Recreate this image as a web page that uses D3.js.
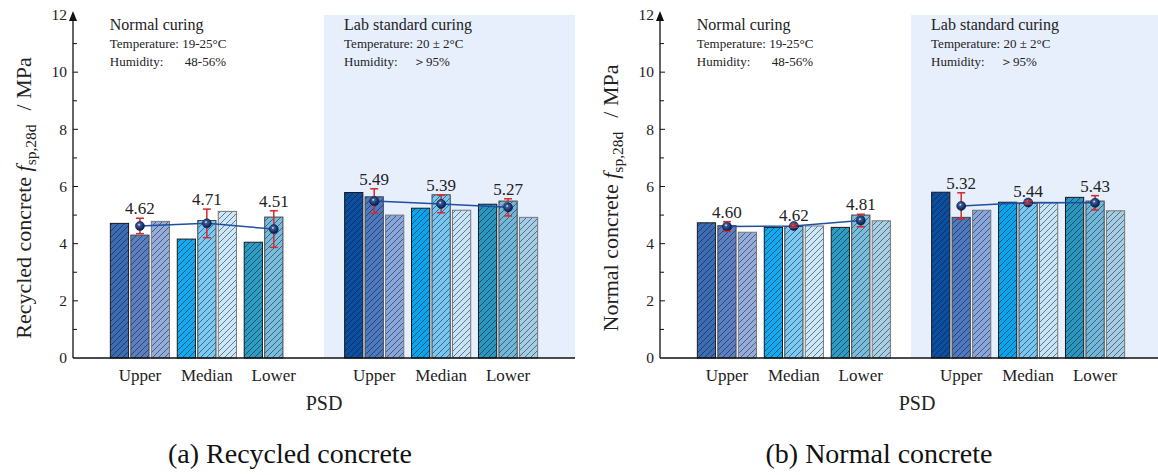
<!DOCTYPE html>
<html>
<head>
<meta charset="utf-8">
<script src="https://cdn.jsdelivr.net/npm/d3@7"></script>
<style>
  body { margin: 0; background: #fff; }
  svg { display: block; font-family: "Liberation Serif", "Times New Roman", serif; }
</style>
</head>
<body>
<div id="viz"></div>
<script>
const psd = ["Upper", "Median", "Lower"];
const yTicks = [0, 2, 4, 6, 8, 10, 12];

// (a) recycled concrete, three specimens per PSD (null = no bar)
const recycledNormalBars = [[4.71, 4.30, 4.78], [4.16, 4.81, 5.13], [4.05, 4.93, null]];
const recycledLabBars = [[5.79, 5.64, 5.00], [5.24, 5.71, 5.17], [5.38, 5.49, 4.92]];
const recycledNormalMean = [4.62, 4.71, 4.51];
const recycledNormalErr = [0.27, 0.50, 0.64];
const recycledLabMean = [5.49, 5.39, 5.27];
const recycledLabErr = [0.43, 0.31, 0.30];

// (b) normal concrete
const normalNormalBars = [[4.73, 4.63, 4.40], [4.57, 4.60, 4.62], [4.57, 5.00, 4.80]];
const normalLabBars = [[5.80, 4.92, 5.17], [5.45, 5.41, 5.43], [5.62, 5.49, 5.15]];
const normalNormalMean = [4.60, 4.62, 4.81];
const normalNormalErr = [0.17, 0.05, 0.22];
const normalLabMean = [5.32, 5.44, 5.43];
const normalLabErr = [0.46, 0.05, 0.25];

const normalColors = [
  ["#3c6db4", "#5b7fc1", "#93acd9"],
  ["#12a9ee", "#7cc9f2", "#cbe7f8"],
  ["#2d9bc2", "#79bcdb", "#a8cfe3"]
];
const labColors = [
  ["#0c4e9f", "#4e79be", "#88a6d9"],
  ["#09a5ec", "#79c7f1", "#c6e4f6"],
  ["#2a96be", "#73b7d8", "#a4cce2"]
];
const barStroke = ["#1a1a1a", "#444", "#777"];

const W = 1158, H = 475;
const y0 = 358, y12 = 15;

const svg = d3.select("#viz").append("svg")
  .attr("width", W).attr("height", H);
svg.append("rect").attr("width", W).attr("height", H).attr("fill", "#fff");

const defs = svg.append("defs");
defs.append("pattern")
  .attr("id", "hatch")
  .attr("patternUnits", "userSpaceOnUse")
  .attr("width", 6).attr("height", 6)
  .append("path")
    .attr("d", "M-1,1 l2,-2 M0,6 l6,-6 M5,7 l2,-2")
    .attr("stroke", "rgba(10,20,40,0.62)")
    .attr("stroke-width", 0.85);

const grad = defs.append("radialGradient")
  .attr("id", "ball").attr("cx", "40%").attr("cy", "36%").attr("r", "62%");
grad.append("stop").attr("offset", "0%").attr("stop-color", "#ffffff");
grad.append("stop").attr("offset", "25%").attr("stop-color", "#3c5c98");
grad.append("stop").attr("offset", "100%").attr("stop-color", "#061c50");

const y = d3.scaleLinear().domain([0, 12]).range([y0, y12]);

function drawPanel(p) {
  const x = d3.scaleLinear().domain([0, 7.5]).range(p.range);
  const unit = x(1) - x(0);
  const inner = d3.scaleBand().domain([0, 1, 2])
    .range([-0.442 * unit, 0.442 * unit]).paddingInner(0.11);
  const g = svg.append("g");

  // lab curing shading
  g.append("rect")
    .attr("x", x(3.75)).attr("y", y(12))
    .attr("width", x(7.5) - x(3.75)).attr("height", y(0) - y(12))
    .attr("fill", "#e7effc");

  const groups = [
    { pos: [1, 2, 3], bars: p.normalBars, mean: p.normalMean, err: p.normalErr, colors: normalColors },
    { pos: [4.5, 5.5, 6.5], bars: p.labBars, mean: p.labMean, err: p.labErr, colors: labColors }
  ];

  groups.forEach(gr => {
    const cells = [];
    gr.bars.forEach((vals, gi) => vals.forEach((v, bi) => {
      if (v != null) cells.push({ c: gr.pos[gi], bi, v, color: gr.colors[gi][bi] });
    }));
    const bx = d => x(d.c) + inner(d.bi);
    g.selectAll(null).data(cells).enter().append("rect")
      .attr("x", bx).attr("y", d => y(d.v))
      .attr("width", inner.bandwidth()).attr("height", d => y(0) - y(d.v))
      .attr("fill", d => d.color);
    g.selectAll(null).data(cells).enter().append("rect")
      .attr("x", bx).attr("y", d => y(d.v))
      .attr("width", inner.bandwidth()).attr("height", d => y(0) - y(d.v))
      .attr("fill", "url(#hatch)")
      .attr("stroke", d => barStroke[d.bi]).attr("stroke-width", 1);

    const pts = gr.mean.map((m, i) => ({ cx: x(gr.pos[i]), m, e: gr.err[i] }));
    g.append("path")
      .attr("d", d3.line().x(d => d.cx).y(d => y(d.m))(pts))
      .attr("fill", "none").attr("stroke", "#1e4fa0").attr("stroke-width", 1.5);

    g.selectAll(null).data(pts).enter().append("line")
      .attr("x1", d => d.cx).attr("x2", d => d.cx)
      .attr("y1", d => y(d.m + d.e)).attr("y2", d => y(d.m - d.e))
      .attr("stroke", "#d42a2a").attr("stroke-width", 1.5);
    g.selectAll(null).data(pts).enter().append("circle")
      .attr("cx", d => d.cx).attr("cy", d => y(d.m)).attr("r", 4.5)
      .attr("fill", "url(#ball)").attr("stroke", "#061840").attr("stroke-width", 0.6);
    [1, -1].forEach(s => {
      g.selectAll(null).data(pts).enter().append("line")
        .attr("x1", d => d.cx - 4).attr("x2", d => d.cx + 4)
        .attr("y1", d => y(d.m + s * d.e)).attr("y2", d => y(d.m + s * d.e))
        .attr("stroke", "#d42a2a").attr("stroke-width", 1.5);
    });
    g.selectAll(null).data(pts).enter().append("text")
      .attr("x", d => d.cx).attr("y", d => y(d.m + d.e) - 4)
      .attr("text-anchor", "middle").attr("font-size", 17).attr("fill", "#222")
      .text(d => d.m.toFixed(2));

    // category labels
    g.selectAll(null).data(gr.pos).enter().append("text")
      .attr("x", d => x(d)).attr("y", 381)
      .attr("text-anchor", "middle").attr("font-size", 17).attr("fill", "#222")
      .text((d, i) => psd[i]);
  });

  // x axis line
  g.append("line")
    .attr("x1", x(0)).attr("x2", x(7.5)).attr("y1", y(0)).attr("y2", y(0))
    .attr("stroke", "#111").attr("stroke-width", 1.3);

  // y axis with inward ticks and arrow
  const ax = x(0);
  g.append("line")
    .attr("x1", ax).attr("x2", ax).attr("y1", y(0)).attr("y2", y(12) - 1)
    .attr("stroke", "#111").attr("stroke-width", 1.3);
  g.append("path")
    .attr("d", `M${ax},${y(12) - 4} l-4,10 l8,0 z`).attr("fill", "#111");
  g.selectAll(null).data(d3.range(1, 12)).enter().append("line")
    .attr("x1", ax).attr("x2", d => ax + (d % 2 === 0 ? 5 : 4))
    .attr("y1", d => y(d)).attr("y2", d => y(d))
    .attr("stroke", "#111").attr("stroke-width", 1);
  g.selectAll(null).data(yTicks).enter().append("text")
    .attr("x", ax - 6).attr("y", d => y(d)).attr("dy", "0.34em")
    .attr("text-anchor", "end").attr("font-size", 15.5).attr("fill", "#222")
    .text(d => d);

  // y title
  const t = g.append("text")
    .attr("transform", `translate(${ax - 42},198) rotate(-90)`)
    .attr("text-anchor", "middle").attr("font-size", 22).attr("fill", "#222");
  t.append("tspan").text(p.yTitle + " ");
  t.append("tspan").attr("font-style", "italic").text("f");
  t.append("tspan").attr("font-size", 15.5).attr("dy", 5).text("sp,28d");
  t.append("tspan").attr("dy", -5).attr("dx", 14).text("/ MPa");

  // curing notes
  const notes = [
    { at: 0.55, head: "Normal curing", temp: "Temperature: 19-25°C", hum: "48-56%", hx: 75 },
    { at: 4.05, head: "Lab standard curing", temp: "Temperature: 20 ± 2°C", hum: "＞95%", hx: 69 }
  ];
  notes.forEach(n => {
    const nx = x(n.at);
    g.append("text").attr("x", nx).attr("y", 30).attr("font-size", 16).attr("fill", "#222").text(n.head);
    g.append("text").attr("x", nx).attr("y", 48).attr("font-size", 13).attr("fill", "#222").text(n.temp);
    g.append("text").attr("x", nx).attr("y", 66).attr("font-size", 13).attr("fill", "#222").text("Humidity:");
    g.append("text").attr("x", nx + n.hx).attr("y", 66).attr("font-size", 13).attr("fill", "#222").text(n.hum);
  });

  g.append("text")
    .attr("x", x(3.75) + p.psdShift).attr("y", 410)
    .attr("text-anchor", "middle").attr("font-size", 20).attr("fill", "#222")
    .text("PSD");
  g.append("text")
    .attr("x", p.captionX).attr("y", 463)
    .attr("text-anchor", "middle").attr("font-size", 28).attr("fill", "#111")
    .text(p.caption);
}

drawPanel({
  range: [73, 575], yTitle: "Recycled concrete", caption: "(a) Recycled concrete",
  captionX: 290, psdShift: 0,
  normalBars: recycledNormalBars, labBars: recycledLabBars,
  normalMean: recycledNormalMean, normalErr: recycledNormalErr,
  labMean: recycledLabMean, labErr: recycledLabErr
});
drawPanel({
  range: [660, 1162], yTitle: "Normal concrete", caption: "(b) Normal concrete",
  captionX: 879, psdShift: 6,
  normalBars: normalNormalBars, labBars: normalLabBars,
  normalMean: normalNormalMean, normalErr: normalNormalErr,
  labMean: normalLabMean, labErr: normalLabErr
});
</script>
</body>
</html>
